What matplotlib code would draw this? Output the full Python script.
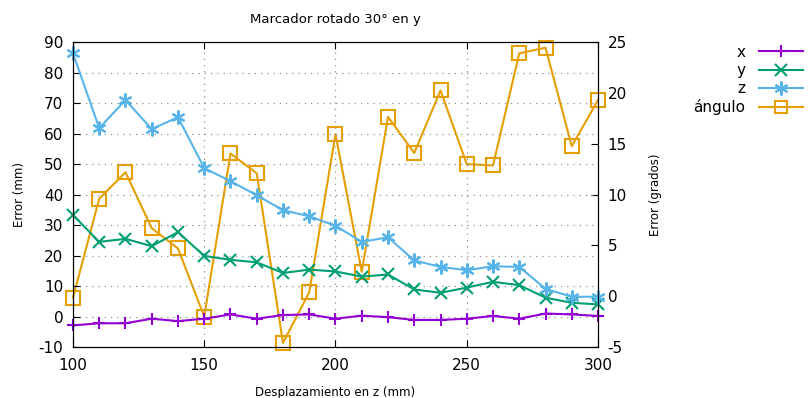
import matplotlib.pyplot as plt
from matplotlib.lines import Line2D

desplazamiento = [100, 110, 120, 130, 140, 150, 160, 170, 180, 190, 200,
                  210, 220, 230, 240, 250, 260, 270, 280, 290, 300]
err_x = [-2.9, -2.2, -2.2, -0.7, -1.5, -0.7, 0.7, -0.7, 0.5, 0.7, -0.7,
         0.3, -0.2, -1.1, -1.1, -0.7, 0.2, -0.7, 1.0, 0.7, 0.2]
err_y = [33.3, 24.5, 25.5, 23.1, 27.7, 19.9, 18.6, 17.8, 14.3, 15.4, 14.8,
         13.1, 13.8, 8.9, 7.8, 9.5, 11.4, 10.3, 6.2, 4.5, 4.0]
err_z = [86.4, 61.8, 71.0, 61.5, 65.4, 48.7, 44.4, 39.8, 34.9, 32.9, 29.8,
         24.5, 26.0, 18.4, 16.3, 15.2, 16.5, 16.3, 9.1, 6.5, 6.5]
err_angulo = [-0.15, 9.6, 12.2, 6.7, 4.7, -2.0, 14.05, 12.1, -4.6, 0.4, 15.95,
              2.4, 17.65, 14.1, 20.25, 13.0, 12.87, 23.9, 24.45, 14.77, 19.3]

c_x = '#9400d3'
c_y = '#009e73'
c_z = '#56b4e9'
c_ang = '#e69f00'
asterisco = (6, 2, 0)

plt.rcParams['font.family'] = 'DejaVu Sans'
plt.rcParams['axes.unicode_minus'] = False
fig = plt.figure(figsize=(8.09, 3.98), dpi=100)
ax = fig.add_axes([0.0902, 0.128, 0.649, 0.766])
ax2 = ax.twinx()

estilo = dict(lw=1.5, mew=1.5, clip_on=False)
ax.plot(desplazamiento, err_x, color=c_x, marker='+', ms=9, **estilo)
ax.plot(desplazamiento, err_y, color=c_y, marker='x', ms=9, **estilo)
ax.plot(desplazamiento, err_z, color=c_z, marker=asterisco, ms=10, **estilo)
ax2.plot(desplazamiento, err_angulo, color=c_ang, marker='s', ms=10,
         fillstyle='none', **estilo)

ax.set_xlim(100, 300)
ax.set_ylim(-10, 90)
ax2.set_ylim(-5, 25)
ax.set_xticks([100, 150, 200, 250, 300])
ax.set_yticks(range(-10, 91, 10))
ax2.set_yticks(range(-5, 26, 5))

ax.grid(True, color='#909090', linestyle=(0, (1, 4)), lw=0.9)
ax.tick_params(axis='x', direction='in', labelsize=11, length=5, top=True, pad=8)
ax.tick_params(axis='y', direction='in', labelsize=11, length=5, pad=7)
ax2.tick_params(direction='in', labelsize=11, length=5, pad=7)
ax.set_zorder(ax2.get_zorder() + 1)
ax.patch.set_visible(False)

ax.set_title('Marcador rotado 30° en y', fontsize=9.5, pad=14)
ax.set_xlabel('Desplazamiento en z (mm)', fontsize=8.5, labelpad=9)
ax.set_ylabel('Error (mm)', fontsize=8.5, labelpad=9)
ax2.set_ylabel('Error (grados)', fontsize=8.5, labelpad=16)

handles = [
    Line2D([], [], color=c_x, lw=1.5, marker='+', ms=9, mew=1.5),
    Line2D([], [], color=c_y, lw=1.5, marker='x', ms=9, mew=1.5),
    Line2D([], [], color=c_z, lw=1.5, marker=asterisco, ms=10, mew=1.5),
    Line2D([], [], color=c_ang, lw=1.5, marker='s', ms=8, mew=1.5, fillstyle='none'),
]
fig.legend(handles, ['x', 'y', 'z', 'ángulo'], loc='upper right',
           bbox_to_anchor=(1.01, 0.922), frameon=False, markerfirst=False,
           fontsize=11, handlelength=2.9, labelspacing=0.2, handletextpad=0.9)

fig.savefig('out.png', dpi=100)
